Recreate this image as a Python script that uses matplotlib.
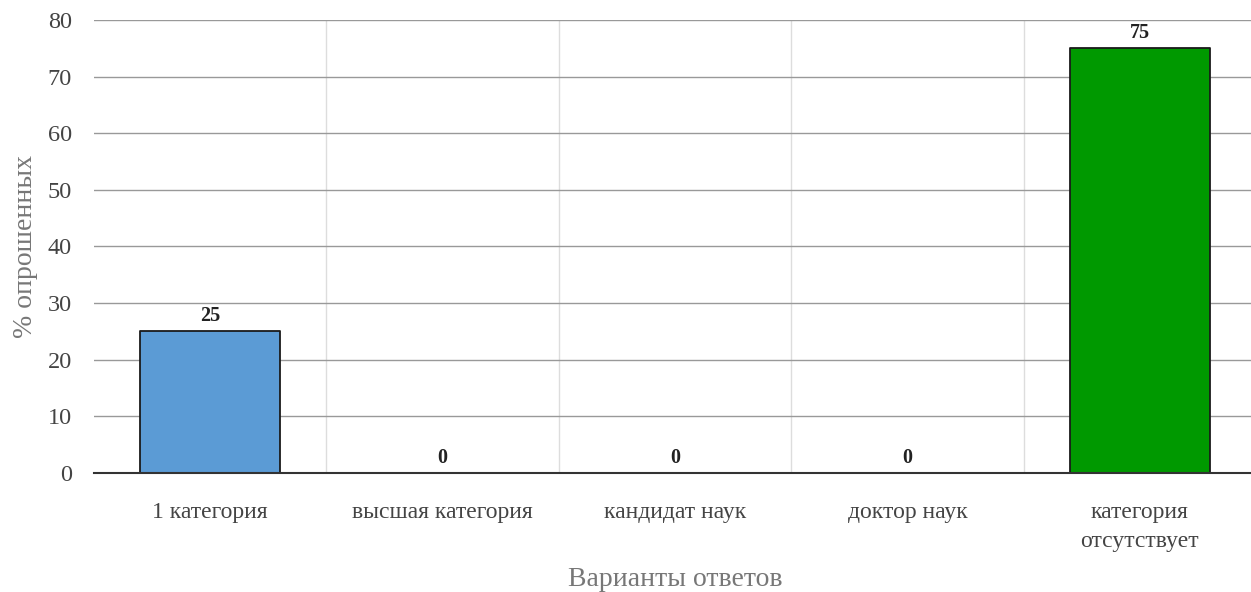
import matplotlib.pyplot as plt
import numpy as np

categories = ["1 категория", "высшая категория", "кандидат наук", "доктор наук", "категория\nотсутствует"]
values = [25, 0, 0, 0, 75]
colors = ["#5b9bd5", "#5b9bd5", "#5b9bd5", "#5b9bd5", "#009900"]

plt.rcParams['font.family'] = ['Liberation Serif', 'DejaVu Serif']

fig = plt.figure(figsize=(12.51, 5.92), dpi=100)
ax = fig.add_axes([94 / 1251, 1 - 473 / 592, 1162 / 1251, (473 - 20) / 592])

x = np.arange(len(categories))
bars = ax.bar(x, values, width=0.6, color=colors, edgecolor="#1a1a1a", linewidth=1.3,
              joinstyle="round", zorder=3)
for xi, v in zip(x, values):
    ax.text(xi, v + 0.9, str(v), ha="center", va="bottom", fontsize=14.5,
            fontweight="bold", color="#222222", zorder=4)

ax.set_xlim(-0.5, len(categories) - 0.5)
ax.set_ylim(0, 80)
ax.set_yticks(range(0, 81, 10))
ax.set_xticks(x)
ax.set_xticklabels(categories, fontsize=17, color="#444444", linespacing=1.5)
ax.tick_params(axis="y", labelsize=17.5, colors="#444444", length=0, pad=16)
ax.tick_params(axis="x", length=0, pad=21)

# grid
ax.yaxis.grid(True, color="#999999", linewidth=1.0, zorder=0)
for b in np.arange(0.5, len(categories) - 0.5, 1):
    ax.axvline(b, color="#dddddd", linewidth=1.0, zorder=0)

for s in ["left", "right", "top"]:
    ax.spines[s].set_visible(False)
ax.spines["bottom"].set_color("#333333")
ax.spines["bottom"].set_linewidth(1.5)
ax.spines["bottom"].set_zorder(5)

ax.set_ylabel("% опрошенных", fontsize=20, color="#777777", labelpad=7)
ax.set_xlabel("Варианты ответов", fontsize=20, color="#777777", labelpad=11)

fig.savefig("out.png", dpi=100)
